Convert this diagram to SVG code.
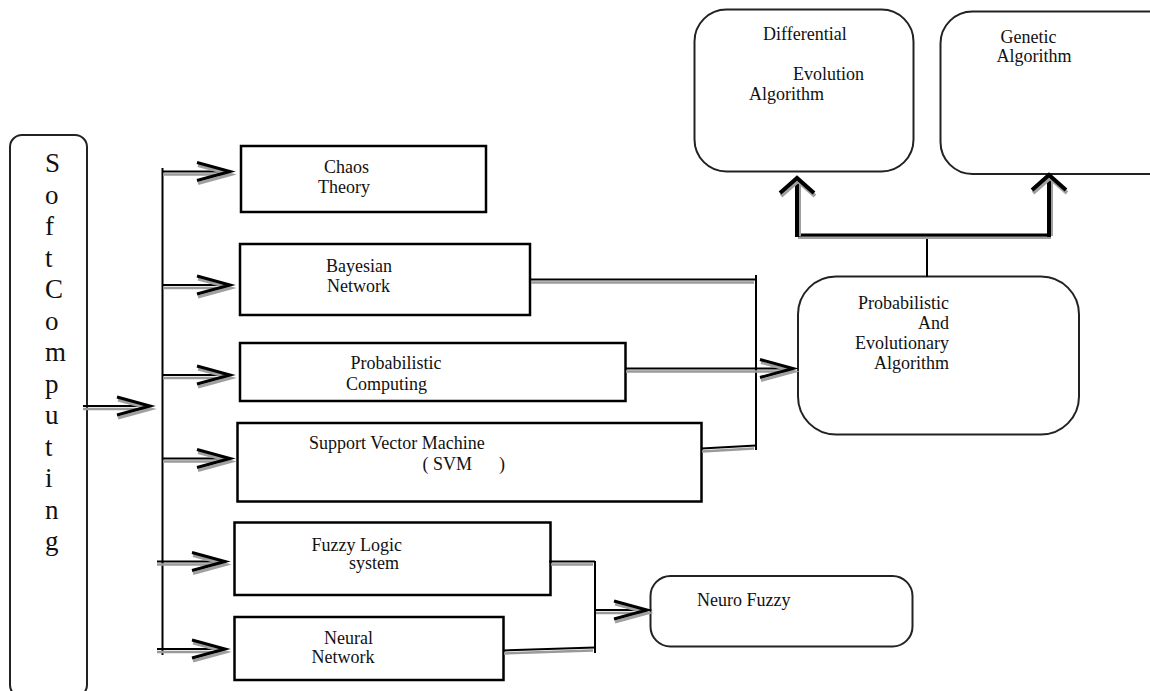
<svg xmlns="http://www.w3.org/2000/svg" xmlns:xlink="http://www.w3.org/1999/xlink" width="1150" height="691" viewBox="0 0 1150 691">
<style>
  .box{fill:#fff;stroke:#000;stroke-width:2.5}
  .rbox{fill:#fff;stroke:#222;stroke-width:2}
  .t{font-family:"Liberation Serif","Times New Roman",serif;font-size:18px;fill:#111}
  .big{font-family:"Liberation Serif","Times New Roman",serif;font-size:27px;fill:#111}
  .ln{fill:none;stroke:#000;stroke-width:2}
  .sh{fill:none;stroke:#9a9a9a;stroke-width:2.5}
  .hd{fill:none;stroke:#000;stroke-width:3}
  .hds{fill:none;stroke:#a0a0a0;stroke-width:3}
  .thick{fill:none;stroke:#000;stroke-width:4}
</style>
<defs>
  <g id="ah">
    <polyline class="hds" points="-32,-6 1,3 -32,12"/>
    <polyline class="hd" points="-33,-9 0,0 -33,9"/>
  </g>
  <g id="up">
    <polyline fill="none" stroke="#a0a0a0" stroke-width="4" points="-16,18 1,3 18,18"/>
    <polyline class="thick" points="-17,15 0,0 17,15"/>
  </g>
</defs>

<g id="soft-computing">
  <rect class="rbox" x="10" y="135" width="77" height="562" rx="12"/>
  <text class="big" x="45" y="172">S</text>
  <text class="big" x="45" y="203.5">o</text>
  <text class="big" x="45" y="235">f</text>
  <text class="big" x="45" y="266.5">t</text>
  <text class="big" x="45" y="298">C</text>
  <text class="big" x="45" y="329.5">o</text>
  <text class="big" x="45" y="361">m</text>
  <text class="big" x="45" y="392.5">p</text>
  <text class="big" x="45" y="424">u</text>
  <text class="big" x="45" y="455.5">t</text>
  <text class="big" x="45" y="487">i</text>
  <text class="big" x="45" y="518.5">n</text>
  <text class="big" x="45" y="550">g</text>
</g>

<g id="chaos">
  <rect class="box" x="241" y="146" width="245" height="66"/>
  <text class="t" x="324" y="173">Chaos</text>
  <text class="t" x="318" y="193">Theory</text>
</g>
<g id="bayesian">
  <rect class="box" x="240" y="244" width="290" height="71"/>
  <text class="t" x="326" y="272">Bayesian</text>
  <text class="t" x="327" y="292">Network</text>
</g>
<g id="probabilistic">
  <rect class="box" x="240" y="343" width="385.5" height="58"/>
  <text class="t" x="350.5" y="369">Probabilistic</text>
  <text class="t" x="346" y="390">Computing</text>
</g>
<g id="svm">
  <rect class="box" x="237.5" y="423" width="464" height="78.5"/>
  <text class="t" x="309" y="449">Support Vector Machine</text>
  <text class="t" x="422.5" y="470" xml:space="preserve">( SVM      )</text>
</g>
<g id="fuzzy">
  <rect class="box" x="234.5" y="522.5" width="316" height="72.5"/>
  <text class="t" x="311.5" y="550.5">Fuzzy Logic</text>
  <text class="t" x="349" y="569">system</text>
</g>
<g id="neural">
  <rect class="box" x="234.5" y="617" width="269" height="63"/>
  <text class="t" x="324" y="644">Neural</text>
  <text class="t" x="311.5" y="663">Network</text>
</g>
<g id="pea">
  <rect class="rbox" x="798" y="276.5" width="281" height="158" rx="38"/>
  <text class="t" x="949" y="309" text-anchor="end">Probabilistic</text>
  <text class="t" x="949" y="329" text-anchor="end">And</text>
  <text class="t" x="949" y="349" text-anchor="end">Evolutionary</text>
  <text class="t" x="949" y="369" text-anchor="end">Algorithm</text>
</g>
<g id="de">
  <rect class="rbox" x="694.5" y="9.5" width="219" height="162" rx="32"/>
  <text class="t" x="763" y="40">Differential</text>
  <text class="t" x="793" y="80">Evolution</text>
  <text class="t" x="749" y="100">Algorithm</text>
</g>
<g id="ga">
  <rect class="rbox" x="940.5" y="11.5" width="240" height="162.5" rx="32"/>
  <text class="t" x="1000.5" y="42.5">Genetic</text>
  <text class="t" x="996.5" y="62">Algorithm</text>
</g>
<g id="neuro-fuzzy">
  <rect class="rbox" x="650.5" y="576" width="262" height="70.5" rx="20"/>
  <text class="t" x="697" y="606">Neuro Fuzzy</text>
</g>

<g id="connectors">
  <!-- soft computing to bus -->
  <line class="sh" x1="83" y1="409" x2="147" y2="409"/>
  <line class="ln" x1="83" y1="406" x2="148" y2="406"/>
  <use xlink:href="#ah" x="150" y="406"/>
  <!-- bus -->
  <line class="ln" x1="162.5" y1="168" x2="162.5" y2="655"/>
  <!-- branches -->
  <line class="sh" x1="163" y1="174.5" x2="226" y2="174.5"/>
  <line class="ln" x1="162" y1="171.5" x2="228" y2="171.5"/>
  <use xlink:href="#ah" x="230" y="171.5"/>
  <line class="sh" x1="163" y1="288" x2="226" y2="288"/>
  <line class="ln" x1="162" y1="285" x2="228" y2="285"/>
  <use xlink:href="#ah" x="230" y="285"/>
  <line class="sh" x1="163" y1="378" x2="226" y2="378"/>
  <line class="ln" x1="162" y1="375" x2="228" y2="375"/>
  <use xlink:href="#ah" x="230" y="375"/>
  <line class="sh" x1="163" y1="461.5" x2="226" y2="461.5"/>
  <line class="ln" x1="162" y1="458.5" x2="228" y2="458.5"/>
  <use xlink:href="#ah" x="230" y="458.5"/>
  <line class="sh" x1="157" y1="564.5" x2="222" y2="564.5"/>
  <line class="ln" x1="157" y1="561.5" x2="223" y2="561.5"/>
  <use xlink:href="#ah" x="225" y="561.5"/>
  <line class="sh" x1="157" y1="652" x2="222" y2="652"/>
  <line class="ln" x1="157" y1="649" x2="223" y2="649"/>
  <use xlink:href="#ah" x="225" y="649"/>

  <!-- to PEA -->
  <line class="sh" x1="531" y1="282.5" x2="754" y2="282.5"/>
  <line class="ln" x1="530" y1="279.5" x2="756" y2="279.5"/>
  <line class="ln" x1="756" y1="275" x2="756" y2="450"/>
  <line class="sh" x1="702" y1="451.5" x2="754" y2="448.5"/>
  <line class="ln" x1="701.5" y1="448.5" x2="756" y2="445.5"/>
  <line class="sh" x1="626" y1="371.5" x2="790" y2="371.5"/>
  <line class="ln" x1="625.5" y1="368.5" x2="791" y2="368.5"/>
  <use xlink:href="#ah" x="793" y="368.5"/>

  <!-- PEA to DE / GA -->
  <line class="ln" x1="927" y1="235" x2="927" y2="277"/>
  <line fill="none" stroke="#a0a0a0" stroke-width="3" x1="798" y1="237.5" x2="1051" y2="237.5"/>
  <line fill="none" stroke="#000" stroke-width="3" x1="796" y1="235" x2="1051" y2="235"/>
  <line fill="none" stroke="#a0a0a0" stroke-width="4" x1="799" y1="236" x2="799" y2="182"/>
  <line class="thick" x1="797" y1="237" x2="797" y2="179"/>
  <use xlink:href="#up" x="797" y="178"/>
  <line fill="none" stroke="#a0a0a0" stroke-width="4" x1="1051" y1="236" x2="1051" y2="179"/>
  <line class="thick" x1="1049" y1="237" x2="1049" y2="176"/>
  <use xlink:href="#up" x="1049" y="175"/>

  <!-- Fuzzy + Neural to Neuro Fuzzy -->
  <line class="sh" x1="551" y1="564.5" x2="593" y2="564.5"/>
  <line class="ln" x1="549" y1="561.5" x2="595" y2="561.5"/>
  <line class="ln" x1="595" y1="561" x2="595" y2="653"/>
  <line class="sh" x1="504" y1="653.5" x2="593" y2="650.5"/>
  <line class="ln" x1="503.5" y1="650.5" x2="595" y2="647.5"/>
  <line class="sh" x1="596" y1="613" x2="643" y2="613"/>
  <line class="ln" x1="595" y1="610" x2="645" y2="610"/>
  <use xlink:href="#ah" x="647" y="610"/>
</g>
</svg>
